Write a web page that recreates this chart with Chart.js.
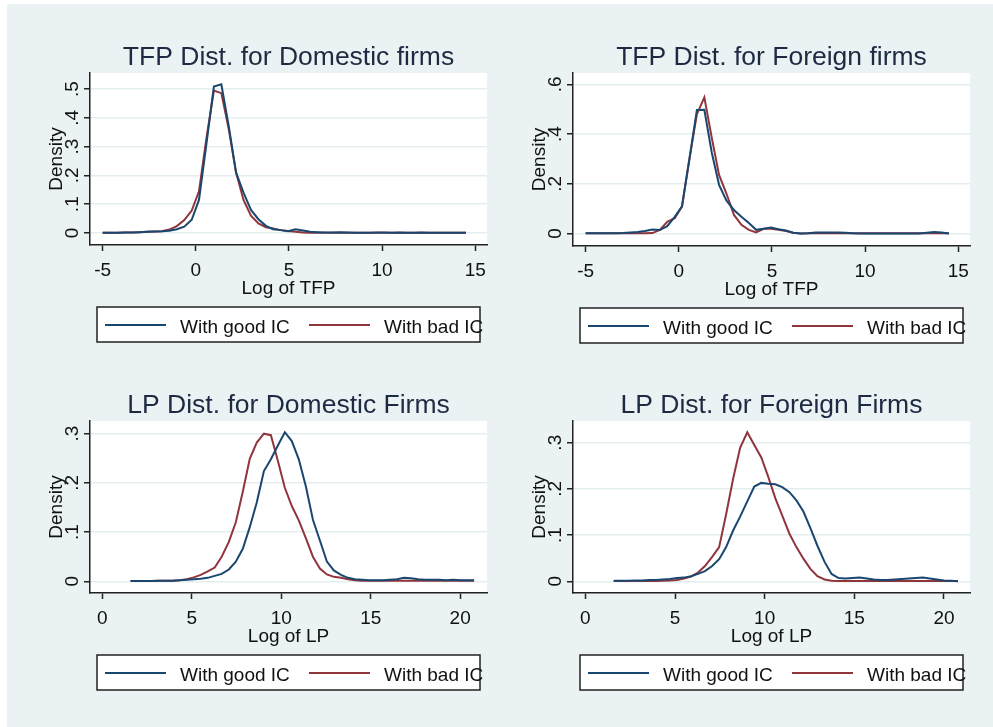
<!DOCTYPE html>
<html lang="en">
<head>
<meta charset="UTF-8">
<title>TFP and LP distributions</title>
<script src="https://cdn.jsdelivr.net/npm/chart.js"></script>
<style>
  body { margin: 0; background: #fff; }
  #page { position: absolute; left: 7px; top: 4px; width: 986px; height: 723px; background: #EAF2F3; }
  canvas { position: absolute; }
</style>
</head>
<body>
<div id="page"></div>
<canvas id="c1" width="483" height="356" style="left:7px;top:4px"></canvas>
<canvas id="c2" width="503" height="356" style="left:490px;top:4px"></canvas>
<canvas id="c3" width="483" height="367" style="left:7px;top:360px"></canvas>
<canvas id="c4" width="503" height="367" style="left:490px;top:360px"></canvas>
<script>
// evaluation points of the kernel densities (50 each)
const tfpGrid = [-5.00, -4.60, -4.20, -3.81, -3.41, -3.01, -2.61, -2.21, -1.82, -1.42,
  -1.02, -0.62, -0.22, 0.17, 0.57, 0.97, 1.37, 1.77, 2.16, 2.56,
  2.96, 3.36, 3.76, 4.15, 4.55, 4.95, 5.35, 5.75, 6.14, 6.54,
  6.94, 7.34, 7.74, 8.13, 8.53, 8.93, 9.33, 9.72, 10.12, 10.52,
  10.92, 11.32, 11.71, 12.11, 12.51, 12.91, 13.31, 13.70, 14.10, 14.50];
const lpGrid = [1.58, 1.97, 2.36, 2.76, 3.15, 3.54, 3.93, 4.32, 4.72, 5.11,
  5.50, 5.89, 6.28, 6.67, 7.07, 7.46, 7.85, 8.24, 8.63, 9.03,
  9.42, 9.81, 10.20, 10.59, 10.98, 11.38, 11.77, 12.16, 12.55, 12.94,
  13.34, 13.73, 14.12, 14.51, 14.90, 15.29, 15.69, 16.08, 16.47, 16.86,
  17.25, 17.65, 18.04, 18.43, 18.82, 19.21, 19.60, 20.00, 20.39, 20.78];

// TFP, domestic firms
const domTfpGood = [0.001, 0.001, 0.001, 0.002, 0.002, 0.003, 0.004, 0.005, 0.006, 0.008,
  0.013, 0.022, 0.046, 0.115, 0.31, 0.509, 0.517, 0.37, 0.21, 0.14,
  0.08, 0.048, 0.025, 0.013, 0.01, 0.006, 0.013, 0.009, 0.004, 0.003,
  0.002, 0.002, 0.003, 0.002, 0.001, 0.001, 0.001, 0.002, 0.002, 0.001,
  0.002, 0.001, 0.001, 0.002, 0.001, 0.001, 0.001, 0.001, 0.001, 0.001];
const domTfpBad = [0.001, 0.001, 0.001, 0.002, 0.002, 0.003, 0.004, 0.005, 0.006, 0.012,
  0.024, 0.045, 0.078, 0.145, 0.33, 0.495, 0.486, 0.36, 0.21, 0.115,
  0.06, 0.033, 0.02, 0.016, 0.01, 0.007, 0.004, 0.002, 0.001, 0.001,
  0.001, 0.001, 0.001, 0.001, 0.001, 0.001, 0.001, 0.001, 0.001, 0.001,
  0.001, 0.001, 0.001, 0.001, 0.001, 0.001, 0.001, 0.001, 0.001, 0.001];

// TFP, foreign firms
const forTfpGood = [0.001, 0.001, 0.001, 0.001, 0.001, 0.002, 0.004, 0.006, 0.01, 0.016,
  0.014, 0.03, 0.067, 0.11, 0.30, 0.497, 0.498, 0.325, 0.196, 0.132,
  0.095, 0.068, 0.042, 0.015, 0.019, 0.024, 0.017, 0.012, 0.003, 0.0,
  0.001, 0.004, 0.004, 0.004, 0.004, 0.003, 0.001, 0.0, 0.0, 0.0,
  0.0, 0.0, 0.0, 0.0, 0.0, 0.0, 0.003, 0.006, 0.004, 0.0];
const forTfpBad = [0.001, 0.001, 0.001, 0.001, 0.001, 0.001, 0.001, 0.001, 0.001, 0.002,
  0.015, 0.047, 0.062, 0.108, 0.30, 0.48, 0.548, 0.385, 0.236, 0.16,
  0.075, 0.035, 0.015, 0.005, 0.019, 0.019, 0.015, 0.01, 0.003, 0.0,
  0.001, 0.001, 0.001, 0.001, 0.001, 0.001, 0.001, 0.001, 0.001, 0.001,
  0.001, 0.001, 0.001, 0.001, 0.001, 0.001, 0.001, 0.001, 0.001, 0.001];

// LP, domestic firms
const domLpGood = [0.0005, 0.0005, 0.0005, 0.0005, 0.001, 0.001, 0.001, 0.002, 0.003, 0.004,
  0.005, 0.007, 0.011, 0.015, 0.024, 0.04, 0.066, 0.11, 0.16, 0.224,
  0.248, 0.276, 0.303, 0.285, 0.248, 0.192, 0.125, 0.083, 0.04, 0.022,
  0.013, 0.007, 0.004, 0.003, 0.002, 0.002, 0.002, 0.003, 0.004, 0.007,
  0.006, 0.004, 0.003, 0.003, 0.003, 0.002, 0.003, 0.002, 0.002, 0.002];
const domLpBad = [0.0005, 0.0005, 0.0005, 0.0005, 0.001, 0.001, 0.001, 0.002, 0.004, 0.008,
  0.013, 0.02, 0.028, 0.05, 0.08, 0.12, 0.182, 0.249, 0.282, 0.30,
  0.297, 0.245, 0.19, 0.153, 0.124, 0.087, 0.05, 0.026, 0.014, 0.009,
  0.007, 0.004, 0.002, 0.001, 0.001, 0.001, 0.001, 0.001, 0.001, 0.001,
  0.001, 0.001, 0.001, 0.001, 0.001, 0.001, 0.001, 0.001, 0.001, 0.001];

// LP, foreign firms
const forLpGood = [0.001, 0.001, 0.001, 0.002, 0.002, 0.003, 0.003, 0.004, 0.005, 0.007,
  0.008, 0.011, 0.016, 0.022, 0.033, 0.048, 0.074, 0.11, 0.14, 0.173,
  0.205, 0.213, 0.211, 0.21, 0.204, 0.193, 0.175, 0.151, 0.115, 0.077,
  0.042, 0.016, 0.007, 0.006, 0.007, 0.008, 0.006, 0.004, 0.003, 0.003,
  0.004, 0.005, 0.006, 0.007, 0.008, 0.006, 0.004, 0.002, 0.001, 0.0];
const forLpBad = [0.0005, 0.0005, 0.0005, 0.0005, 0.0005, 0.0005, 0.0005, 0.001, 0.002, 0.003,
  0.006, 0.01, 0.019, 0.033, 0.053, 0.074, 0.145, 0.222, 0.289, 0.3225,
  0.295, 0.268, 0.226, 0.18, 0.142, 0.103, 0.074, 0.049, 0.027, 0.011,
  0.004, 0.001, 0.0005, 0.0005, 0.0005, 0.0005, 0.0005, 0.0005, 0.0005, 0.0005,
  0.0005, 0.0005, 0.0005, 0.0005, 0.0005, 0.0005, 0.0005, 0.0005, 0.0005, 0.0005];

// axis ticks
const tfpXTicks = [-5, 0, 5, 10, 15];
const lpXTicks = [0, 5, 10, 15, 20];
const domTfpYTicks = [0, 0.1, 0.2, 0.3, 0.4, 0.5];
const domTfpYLabels = ['0', '.1', '.2', '.3', '.4', '.5'];
const forTfpYTicks = [0, 0.2, 0.4, 0.6];
const forTfpYLabels = ['0', '.2', '.4', '.6'];
const lpYTicks = [0, 0.1, 0.2, 0.3];
const lpYLabels = ['0', '.1', '.2', '.3'];

const seriesNames = ['With good IC', 'With bad IC'];
const NAVY = '#1A476F';
const MAROON = '#90353B';
const FONT = '"Liberation Sans", Arial, sans-serif';

// white plot region, titles, rotated y labels and the boxed legend
const stataLook = {
    id: 'stataLook',
    beforeDraw(chart) {
        const { ctx, chartArea: a } = chart;
        ctx.save();
        ctx.fillStyle = '#fff';
        ctx.fillRect(a.left, a.top, a.right - a.left, a.bottom - a.top);
        ctx.restore();
    },
    afterDraw(chart, args, opts) {
        const { ctx, chartArea: a, scales } = chart;
        const cx = (a.left + a.right) / 2;
        ctx.save();
        ctx.textAlign = 'center';
        ctx.textBaseline = 'alphabetic';
        ctx.fillStyle = '#1d2a42';
        ctx.font = '26.5px ' + FONT;
        ctx.fillText(opts.title, cx, a.top - 8);

        ctx.fillStyle = '#111';
        ctx.font = '19px ' + FONT;
        opts.xTicks.forEach(v => {
            ctx.fillText(String(v), scales.x.getPixelForValue(v), a.bottom + 31);
        });
        ctx.fillText(opts.xTitle, cx, a.bottom + 48.5);

        opts.yTicks.forEach((v, i) => {
            ctx.save();
            ctx.translate(a.left - 12, scales.y.getPixelForValue(v));
            ctx.rotate(-Math.PI / 2);
            ctx.fillText(opts.yLabels[i], 0, 0);
            ctx.restore();
        });
        ctx.save();
        ctx.translate(a.left - 28, (a.top + a.bottom) / 2);
        ctx.rotate(-Math.PI / 2);
        ctx.fillText('Density', 0, 0);
        ctx.restore();

        // legend
        const bx = a.left + 7, bw = a.right - a.left - 14, by = a.bottom + 62, bh = 35;
        ctx.fillStyle = '#fff';
        ctx.fillRect(bx, by, bw, bh);
        ctx.strokeStyle = '#222';
        ctx.lineWidth = 1.5;
        ctx.strokeRect(bx, by, bw, bh);
        chart.data.datasets.forEach((ds, i) => {
            const lx = bx + (i ? 212 : 8);
            ctx.strokeStyle = ds.borderColor;
            ctx.lineWidth = 2;
            ctx.beginPath();
            ctx.moveTo(lx, by + 18);
            ctx.lineTo(lx + 61, by + 18);
            ctx.stroke();
            ctx.fillStyle = '#111';
            ctx.textAlign = 'left';
            ctx.fillText(ds.label, lx + 75, by + 25.5);
        });
        ctx.restore();
    }
};

function makePanel(id, p) {
    const pts = vals => p.grid.map((x, i) => ({ x: x, y: vals[i] }));
    new Chart(document.getElementById(id), {
        type: 'line',
        data: {
            datasets: [
                { label: seriesNames[0], data: pts(p.good), borderColor: NAVY, borderWidth: 2, pointRadius: 0, tension: 0 },
                { label: seriesNames[1], data: pts(p.bad), borderColor: MAROON, borderWidth: 2, pointRadius: 0, tension: 0 }
            ]
        },
        plugins: [stataLook],
        options: {
            responsive: false,
            animation: false,
            devicePixelRatio: 1,
            layout: { padding: { top: p.padTop, right: p.padRight, left: 0, bottom: 0 } },
            plugins: {
                legend: { display: false },
                tooltip: { enabled: false },
                stataLook: { title: p.title, xTitle: p.xTitle, xTicks: p.xTicks, yTicks: p.yTicks, yLabels: p.yLabels }
            },
            scales: {
                x: {
                    type: 'linear', min: p.xMin, max: p.xMax,
                    afterBuildTicks: s => { s.ticks = p.xTicks.map(v => ({ value: v })); },
                    afterFit: s => { s.height = p.xHeight; },
                    ticks: { display: false },
                    grid: { drawOnChartArea: false, drawTicks: true, tickLength: 6, tickColor: '#222', tickWidth: 1.5 },
                    border: { display: true, color: '#222', width: 1.5 }
                },
                y: {
                    type: 'linear', min: p.yMin, max: p.yMax,
                    afterBuildTicks: s => { s.ticks = p.yTicks.map(v => ({ value: v })); },
                    afterFit: s => { s.width = 83; },
                    ticks: { display: false },
                    grid: { color: '#E4EDF0', lineWidth: 1.5, drawTicks: true, tickLength: 6, tickColor: '#222', tickWidth: 1.5 },
                    border: { display: true, color: '#222', width: 1.5 }
                }
            }
        }
    });
}

makePanel('c1', {
    title: 'TFP Dist. for Domestic firms', xTitle: 'Log of TFP',
    grid: tfpGrid, good: domTfpGood, bad: domTfpBad,
    xMin: -5.68, xMax: 15.63, xTicks: tfpXTicks,
    yMin: -0.0417, yMax: 0.556, yTicks: domTfpYTicks, yLabels: domTfpYLabels,
    padTop: 69, padRight: 3, xHeight: 115
});
makePanel('c2', {
    title: 'TFP Dist. for Foreign firms', xTitle: 'Log of TFP',
    grid: tfpGrid, good: forTfpGood, bad: forTfpBad,
    xMin: -5.68, xMax: 15.63, xTicks: tfpXTicks,
    yMin: -0.05, yMax: 0.6456, yTicks: forTfpYTicks, yLabels: forTfpYLabels,
    padTop: 69, padRight: 23, xHeight: 114
});
makePanel('c3', {
    title: 'LP Dist. for Domestic Firms', xTitle: 'Log of LP',
    grid: lpGrid, good: domLpGood, bad: domLpBad,
    xMin: -0.69, xMax: 21.5, xTicks: lpXTicks,
    yMin: -0.0238, yMax: 0.3258, yTicks: lpYTicks, yLabels: lpYLabels,
    padTop: 61, padRight: 3, xHeight: 134
});
makePanel('c4', {
    title: 'LP Dist. for Foreign Firms', xTitle: 'Log of LP',
    grid: lpGrid, good: forLpGood, bad: forLpBad,
    xMin: -0.69, xMax: 21.45, xTicks: lpXTicks,
    yMin: -0.0253, yMax: 0.347, yTicks: lpYTicks, yLabels: lpYLabels,
    padTop: 61, padRight: 23, xHeight: 134
});
</script>
</body>
</html>
